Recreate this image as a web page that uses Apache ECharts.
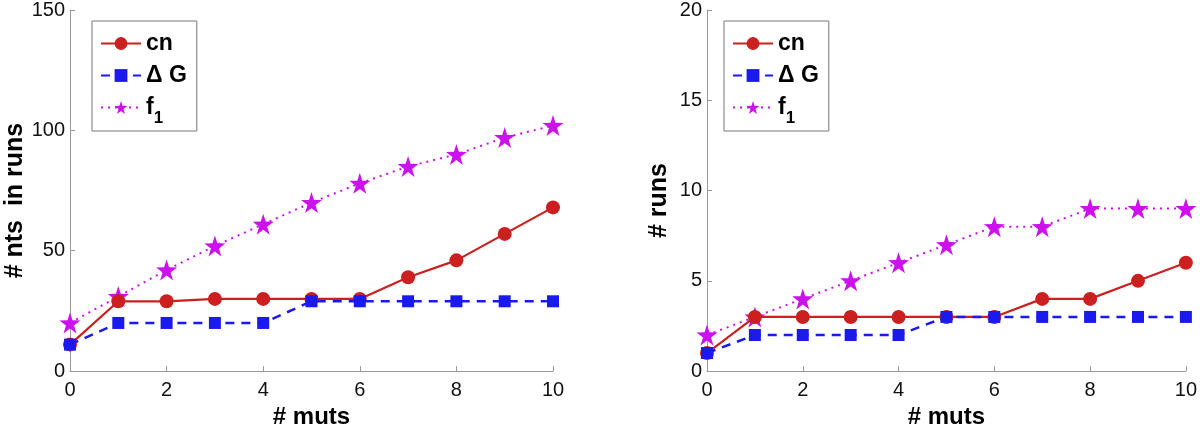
<!DOCTYPE html>
<html><head><meta charset="utf-8">
<script src="https://cdn.jsdelivr.net/npm/echarts@6/dist/echarts.min.js"></script>
<style>html,body{margin:0;padding:0;background:#fff}#c{width:1200px;height:434px}</style>
</head><body><div id="c"></div>
<script>
const muts = [0,1,2,3,4,5,6,7,8,9,10];
const leftCn = [11,29,29,30,30,30,30,39,46,57,68];
const leftDG = [11,20,20,20,20,29,29,29,29,29,29];
const leftF1 = [20,31,42,52,61,70,78,85,90,97,102];
const rightCn = [1,3,3,3,3,3,3,4,4,5,6];
const rightDG = [1,2,2,2,2,3,3,3,3,3,3];
const rightF1 = [2,3,4,5,6,7,8,8,9,9,9];
const seriesNames = ['cn','ΔG','f1'];

const star = 'path://M50,0 L61.8,35.4 L100,36.2 L69.1,59 L80.9,95.1 L50,73 L19.1,95.1 L30.9,59 L0,36.2 L38.2,35.4 Z';
const RED='#cc1f1f', BLUE='#1a1aee', MAG='#cc11ee';
const font='"Liberation Sans", Arial, sans-serif';

function pairs(v){return muts.map((m,i)=>[m,v[i]]);}
function mk(name, data, gi){
  const base = {type:'line', xAxisIndex:gi, yAxisIndex:gi, data:pairs(data), animation:false, z: name==='f1'?1:(name==='ΔG'?3:2)};
  if(name==='cn') return Object.assign(base,{name:'cn',symbol:'circle',symbolSize:14,lineStyle:{color:RED,width:2.2},itemStyle:{color:RED}});
  if(name==='ΔG') return Object.assign(base,{name:'ΔG',symbol:'rect',symbolSize:12,lineStyle:{color:BLUE,width:2.5,type:[9,7]},itemStyle:{color:BLUE}});
  return Object.assign(base,{name:'f1',symbol:star,symbolSize:21,lineStyle:{color:MAG,width:2,type:[2,5]},itemStyle:{color:MAG}});
}
function xA(gi){return {type:'value',gridIndex:gi,min:0,max:10,interval:2,name:'# muts',nameLocation:'middle',nameGap:31,
  nameTextStyle:{fontFamily:font,fontSize:24,fontWeight:'bold',color:'#000'},
  axisLine:{lineStyle:{color:'#999',width:1}},axisTick:{inside:true,length:5,lineStyle:{color:'#999'}},
  axisLabel:{fontFamily:font,fontSize:20,color:'#111',margin:9},splitLine:{show:false}};}
function yA(gi,max,interval,name,gap){return {type:'value',gridIndex:gi,min:0,max:max,interval:interval,name:name,nameLocation:'middle',nameGap:gap,
  nameTextStyle:{fontFamily:font,fontSize:25,fontWeight:'bold',color:'#000',padding:[0,20,0,0]},
  axisLine:{show:true,lineStyle:{color:'#999',width:1}},axisTick:{show:true,inside:true,length:5,lineStyle:{color:'#999'}},
  axisLabel:{fontFamily:font,fontSize:20,color:'#111',margin:5},splitLine:{show:false}};}
function lg(left){return {left:left,top:21,orient:'vertical',data:seriesNames,itemWidth:40,itemHeight:16,itemGap:9,
  padding:[11,10,4,8],borderColor:'#777',borderWidth:1,backgroundColor:'#fff',
  textStyle:{fontFamily:font,fontSize:23,fontWeight:'bold',color:'#000',rich:{s:{fontFamily:font,fontSize:17,fontWeight:'bold',padding:[22,0,0,0]}}},
  formatter:n=>n==='f1'?'f{s|1}':(n==='ΔG'?'Δ G':n)};}

const chart = echarts.init(document.getElementById('c'),null,{renderer:'canvas'});
chart.setOption({
  animation:false,
  backgroundColor:'#fff',
  grid:[{left:70,top:8,width:483,height:375},{left:707,top:8,width:480,height:375}],
  xAxis:[xA(0),xA(1)],
  yAxis:[yA(0,150,50,'# nts  in runs',36),yA(1,20,5,'# runs',35)],
  legend:[lg(92),lg(724)],
  series:[mk('f1',leftF1,0),mk('ΔG',leftDG,0),mk('cn',leftCn,0),
          mk('f1',rightF1,1),mk('ΔG',rightDG,1),mk('cn',rightCn,1)]
});
</script></body></html>
